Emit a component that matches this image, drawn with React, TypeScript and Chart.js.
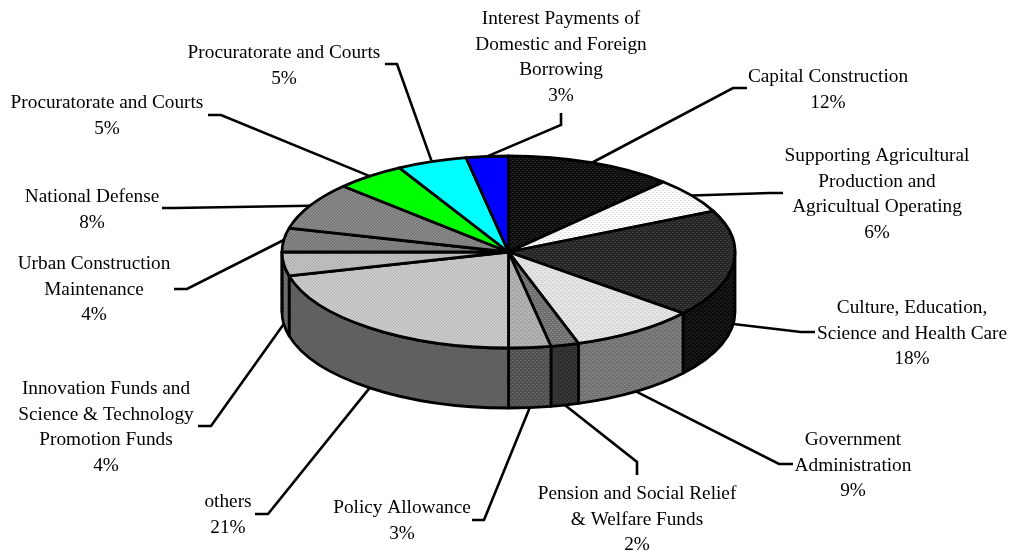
import React, { useEffect, useRef } from "react";
import { Chart, PieController, ArcElement, registerables } from "chart.js";

// Budget shares, clockwise from twelve o'clock.
const categories = [
  ["Capital Construction"],
  ["Supporting Agricultural", "Production and", "Agricultual Operating"],
  ["Culture, Education,", "Science and Health Care"],
  ["Government", "Administration"],
  ["Pension and Social Relief", "& Welfare Funds"],
  ["Policy Allowance"],
  ["others"],
  ["Innovation Funds and", "Science & Technology", "Promotion Funds"],
  ["Urban Construction", "Maintenance"],
  ["National Defense"],
  ["Procuratorate and Courts"],
  ["Procuratorate and Courts"],
  ["Interest Payments of", "Domestic and Foreign", "Borrowing"],
];
const shares = [12, 6, 18, 9, 2, 3, 21, 4, 4, 8, 5, 5, 3];

// Slice textures: [kind, base colour, accent colour]
type Texture = [string, string, string];
const topTextures: Texture[] = [
  ["dot", "#0e0e0e", "#262626"],
  ["dot", "#fcfcfc", "#dcdcdc"],
  ["dot", "#262626", "#3e3e3e"],
  ["dot", "#e4e4e4", "#d0d0d0"],
  ["dot", "#6e6e6e", "#868686"],
  ["dot", "#a8a8a8", "#bcbcbc"],
  ["diag", "#cccccc", "#b6b6b6"],
  ["diag", "#c2c2c2", "#aaaaaa"],
  ["diag", "#747474", "#929292"],
  ["diag", "#787878", "#969696"],
  ["flat", "#00ff00", "#00ff00"],
  ["flat", "#00ffff", "#00ffff"],
  ["flat", "#0000ff", "#0000ff"],
];
const wallTextures: Texture[] = [
  ["dot", "#080808", "#181818"],
  ["dot", "#7c7c7c", "#686868"],
  ["dot", "#0c0c0c", "#202020"],
  ["dot", "#727272", "#868686"],
  ["dot", "#2e2e2e", "#3e3e3e"],
  ["dot", "#505050", "#666666"],
  ["diag", "#5a5a5a", "#6c6c6c"],
  ["diag", "#626262", "#828282"],
  ["diag", "#484848", "#606060"],
  ["diag", "#484848", "#606060"],
  ["flat", "#00a000", "#00a000"],
  ["flat", "#00a0a0", "#00a0a0"],
  ["flat", "#0000a0", "#0000a0"],
];

// Where each callout sits: text centre, first line's mid-height, leader elbow and tail.
const labelCentreX = [828, 877, 912, 853, 637, 402, 228, 106, 94, 92, 107, 284, 561];
const labelTopY = [77, 156, 308, 440, 494, 508, 502, 389, 264, 197, 103, 53, 19];
const leaderElbows = [
  [733, 88], [770, 193], [801, 332], [779, 464], [637, 462], [484, 520], [268, 514],
  [211, 426], [187, 289], [175, 208], [221, 115], [397, 64], [561, 125],
];
const leaderTails = [
  [747, 88], [783, 193], [815, 332], [793, 464], [637, 475], [472, 520], [255, 514],
  [198, 426], [174, 289], [162, 208], [208, 115], [385, 64], [561, 113],
];

const TILT = 96 / 226.5;
const DEPTH = 60;
const LINE_HEIGHT = 25.6;
const FONT = '19.3px "Liberation Serif"';

function makeTexture([kind, base, accent]: Texture): CanvasPattern | string {
  if (kind === "flat") return base;
  const tile = document.createElement("canvas");
  const size = kind === "dot" ? 4 : 3;
  tile.width = tile.height = size;
  const g = tile.getContext("2d")!;
  g.fillStyle = base;
  g.fillRect(0, 0, size, size);
  g.fillStyle = accent;
  if (kind === "dot") {
    g.fillRect(0, 0, 2, 1);
    g.fillRect(2, 2, 2, 1);
  } else {
    for (let i = 0; i < size; i++) g.fillRect(size - 1 - i, i, 1, 1);
  }
  return g.createPattern(tile, "repeat")!;
}

// A pie slice seen at an angle: an elliptical top face plus an outer wall.
class TiltedArc extends ArcElement {
  static id = "tiltedArc";

  draw(ctx: CanvasRenderingContext2D) {
    const { x, y, startAngle, endAngle, outerRadius } = (this as any).getProps([
      "x", "y", "startAngle", "endAngle", "outerRadius",
    ]);
    const o = (this as any).options;
    ctx.beginPath();
    ctx.moveTo(x, y);
    ctx.ellipse(x, y, outerRadius, outerRadius * TILT, 0, startAngle, endAngle);
    ctx.closePath();
    ctx.fillStyle = o.backgroundColor;
    ctx.fill();
    ctx.strokeStyle = o.borderColor;
    ctx.lineWidth = o.borderWidth;
    ctx.lineJoin = "round";
    ctx.stroke();
  }

  drawWall(ctx: CanvasRenderingContext2D, fill: CanvasPattern | string) {
    const { x, y, startAngle, endAngle, outerRadius } = (this as any).getProps([
      "x", "y", "startAngle", "endAngle", "outerRadius",
    ]);
    const lo = Math.max(startAngle, 0);
    const hi = Math.min(endAngle, Math.PI);
    if (lo >= hi) return;
    const o = (this as any).options;
    const ry = outerRadius * TILT;
    ctx.beginPath();
    ctx.ellipse(x, y, outerRadius, ry, 0, lo, hi);
    ctx.ellipse(x, y + DEPTH, outerRadius, ry, 0, hi, lo, true);
    ctx.closePath();
    ctx.fillStyle = fill;
    ctx.fill();
    ctx.strokeStyle = o.borderColor;
    ctx.lineWidth = o.borderWidth;
    ctx.lineJoin = "round";
    ctx.stroke();
  }
}

class TiltedPieController extends PieController {
  static id = "tiltedPie";
  static defaults = { ...PieController.defaults, dataElementType: "tiltedArc" };

  draw() {
    const ctx = (this as any).chart.ctx;
    const arcs = (this as any)._cachedMeta.data;
    const walls = (this as any).getDataset().wallFills;
    arcs.forEach((arc: any, i: number) => arc.drawWall(ctx, walls[i]));
    arcs.forEach((arc: any) => arc.draw(ctx));
  }
}

Chart.register(...registerables, TiltedArc, TiltedPieController);

// Leader lines run from the rim at each slice's middle angle out to its label.
const leaderLines = {
  id: "leaderLines",
  beforeDatasetsDraw(chart: any) {
    const ctx = chart.ctx;
    ctx.save();
    ctx.strokeStyle = "#000";
    ctx.lineWidth = 2.6;
    ctx.lineJoin = "miter";
    chart.getDatasetMeta(0).data.forEach((arc: any, i: number) => {
      const mid = (arc.startAngle + arc.endAngle) / 2;
      const px = arc.x + arc.outerRadius * Math.cos(mid);
      let py = arc.y + arc.outerRadius * TILT * Math.sin(mid);
      if (Math.sin(mid) > 0) py += DEPTH;
      ctx.beginPath();
      ctx.moveTo(px, py);
      ctx.lineTo(leaderElbows[i][0], leaderElbows[i][1]);
      ctx.lineTo(leaderTails[i][0], leaderTails[i][1]);
      ctx.stroke();
    });
    ctx.restore();
  },
};

const sliceLabels = {
  id: "sliceLabels",
  afterDraw(chart: any) {
    const ctx = chart.ctx;
    ctx.save();
    ctx.font = FONT;
    ctx.fillStyle = "#000";
    ctx.textAlign = "center";
    ctx.textBaseline = "middle";
    categories.forEach((lines, i) => {
      [...lines, `${shares[i]}%`].forEach((text, row) => {
        ctx.fillText(text, labelCentreX[i], labelTopY[i] + row * LINE_HEIGHT);
      });
    });
    ctx.restore();
  },
};

export default function App() {
  const ref = useRef<HTMLCanvasElement>(null);

  useEffect(() => {
    const chart = new Chart(ref.current!, {
      type: "tiltedPie" as any,
      data: {
        labels: categories.map((c) => c.join(" ")),
        datasets: [
          {
            data: shares,
            backgroundColor: topTextures.map(makeTexture),
            borderColor: "#000",
            borderWidth: 2.8,
            radius: 226.5,
            wallFills: wallTextures.map(makeTexture),
          } as any,
        ],
      },
      options: {
        responsive: false,
        animation: false,
        layout: { padding: { left: 282, right: 276, top: 25.5, bottom: 73.5 } },
        plugins: { legend: { display: false }, tooltip: { enabled: false } },
      },
      plugins: [leaderLines, sliceLabels],
    });
    return () => chart.destroy();
  }, []);

  return (
    <canvas
      ref={ref}
      width={1011}
      height={552}
      style={{ position: "fixed", left: 0, top: 0, width: 1011, height: 552, background: "#fff" }}
    />
  );
}
